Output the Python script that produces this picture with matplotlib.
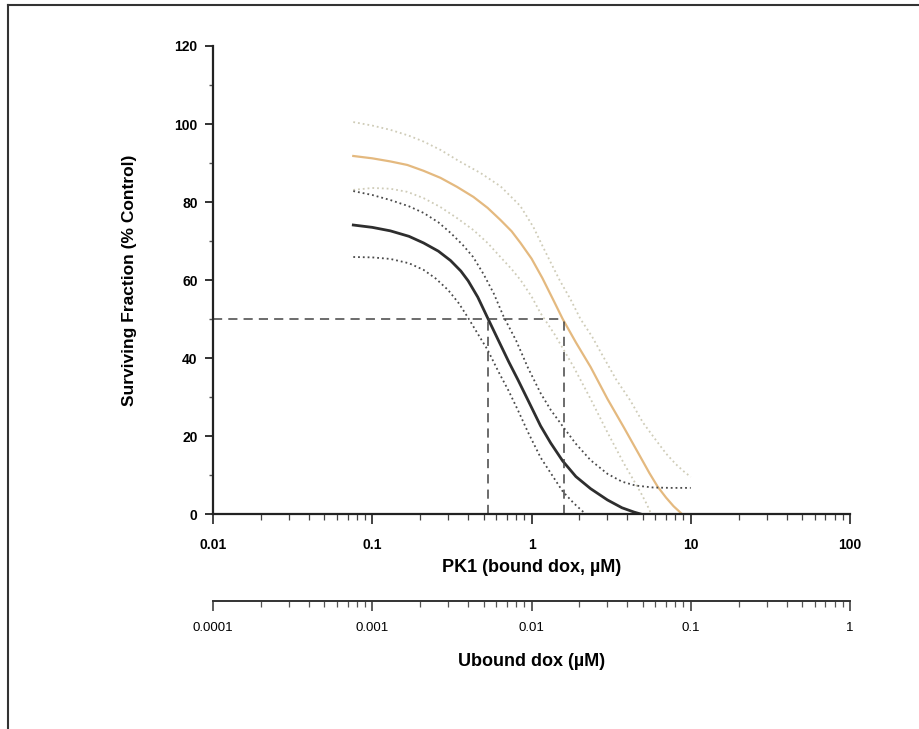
import matplotlib
matplotlib.use("Agg")
import matplotlib.pyplot as plt
from matplotlib.lines import Line2D
from matplotlib.ticker import LogLocator, FixedLocator, NullFormatter

plt.rcParams['font.family'] = ['Liberation Sans', 'DejaVu Sans']

# Curves (x = bound dox, uM; y = % control)
upper_orange_x = [0.076, 0.10, 0.13, 0.17, 0.21, 0.27, 0.35, 0.48, 0.64, 0.85, 1.03, 1.17, 1.32, 1.5,
                  1.76, 2.03, 2.4, 2.72, 3.4, 4.19, 5.0, 6.03, 7.0, 8.05, 9.0, 10]
upper_orange_y = [100.5, 99.6, 98.5, 97.0, 95.5, 93.3, 90.5, 87.4, 84.0, 79.0, 73.5, 68.8, 64.5, 60.0,
                  55.0, 50.0, 45.5, 41.5, 34.5, 29.0, 23.5, 19.0, 15.5, 12.8, 11.0, 9.5]

orange_x = [0.076, 0.10, 0.13, 0.166, 0.21, 0.268, 0.34, 0.432, 0.53, 0.638, 0.75, 0.853, 1.0, 1.17,
            1.37, 1.57, 1.9, 2.35, 3.0, 3.79, 4.7, 5.5, 6.2, 7.0, 7.8, 8.65]
orange_y = [91.8, 91.2, 90.4, 89.5, 88.0, 86.2, 83.9, 81.3, 78.5, 75.4, 72.5, 69.5, 65.5, 60.5,
            54.9, 50.0, 44.0, 37.7, 29.5, 22.3, 15.5, 10.5, 7.0, 4.2, 2.0, 0.3]

lower_orange_x = [0.076, 0.10, 0.13, 0.166, 0.21, 0.268, 0.34, 0.432, 0.53, 0.638, 0.75, 0.853, 1.0,
                  1.14, 1.4, 1.84, 2.35, 3.01, 3.8, 4.4, 4.85, 5.3, 5.6]
lower_orange_y = [83.1, 83.6, 83.4, 82.6, 81.0, 78.7, 75.9, 72.8, 69.5, 65.9, 62.8, 60.0, 55.8,
                  51.5, 46.0, 37.7, 29.5, 20.8, 13.0, 8.5, 5.5, 2.5, 0.3]

upper_black_x = [0.076, 0.10, 0.13, 0.17, 0.21, 0.26, 0.31, 0.37, 0.43, 0.50, 0.58, 0.67, 0.80, 0.95,
                 1.14, 1.32, 1.57, 1.9, 2.35, 3.0, 3.7, 4.5, 5.8, 7.5, 10]
upper_black_y = [82.8, 81.8, 80.5, 78.9, 77.2, 74.8, 72.1, 69.0, 65.9, 61.5, 56.5, 50.5, 44.5, 37.5,
                 31.0, 26.7, 22.5, 18.0, 13.8, 10.3, 8.3, 7.3, 6.8, 6.7, 6.7]

black_x = [0.076, 0.10, 0.13, 0.17, 0.21, 0.26, 0.31, 0.36, 0.40, 0.46, 0.53, 0.62, 0.72, 0.82, 0.95,
           1.14, 1.32, 1.57, 1.9, 2.35, 3.0, 3.7, 4.4, 4.85]
black_y = [74.1, 73.5, 72.6, 71.2, 69.5, 67.4, 65.0, 62.3, 59.8, 55.6, 50.3, 44.5, 39.0, 34.5, 29.2,
           22.6, 18.2, 13.6, 9.6, 6.5, 3.6, 1.6, 0.5, 0.0]

lower_black_x = [0.076, 0.10, 0.13, 0.17, 0.21, 0.25, 0.30, 0.35, 0.40, 0.46, 0.53, 0.62, 0.72, 0.82,
                 0.95, 1.14, 1.32, 1.57, 1.85, 2.12]
lower_black_y = [65.9, 65.8, 65.4, 64.3, 62.6, 60.4, 57.4, 54.0, 50.3, 46.2, 42.1, 36.5, 31.5, 26.7,
                 21.0, 14.5, 10.5, 5.8, 2.7, 0.5]

# IC50 markers
ic50_level = 50
ic50_black = 0.53
ic50_orange = 1.6

y_ticks = [0, 20, 40, 60, 80, 100, 120]
x_ticks = [0.01, 0.1, 1, 10, 100]
x_ticklabels = ["0.01", "0.1", "1", "10", "100"]
u_ticks = [0.0001, 0.001, 0.01, 0.1, 1]
u_ticklabels = ["0.0001", "0.001", "0.01", "0.1", "1"]

fig = plt.figure(figsize=(9.19, 7.29), dpi=100)
ax = fig.add_axes([0.2318, 0.2949, 0.6931, 0.642])

light = '#cfccb8'
dark = '#4a4a4a'
ax.plot(upper_orange_x, upper_orange_y, ls=':', color=light, lw=1.3)
ax.plot(orange_x, orange_y, ls='-', color='#e4b97f', lw=1.6)
ax.plot(lower_orange_x, lower_orange_y, ls=':', color=light, lw=1.3)
ax.plot(upper_black_x, upper_black_y, ls=':', color=dark, lw=1.3)
ax.plot(black_x, black_y, ls='-', color='#2e2e2e', lw=2.0)
ax.plot(lower_black_x, lower_black_y, ls=':', color=dark, lw=1.3)

dash = dict(color='#444444', lw=1.1, ls=(0, (6, 4)))
ax.plot([x_ticks[0], ic50_orange], [ic50_level, ic50_level], **dash)
ax.plot([ic50_black, ic50_black], [0, ic50_level], **dash)
ax.plot([ic50_orange, ic50_orange], [0, ic50_level], **dash)

ax.set_xscale('log')
ax.set_xlim(0.01, 100)
ax.set_ylim(0, 120)
for s in ['top', 'right']:
    ax.spines[s].set_visible(False)
for s in ['left', 'bottom']:
    ax.spines[s].set_linewidth(1.6)
    ax.spines[s].set_color('#222222')

ax.set_yticks(y_ticks)
ax.set_yticklabels([str(v) for v in y_ticks], fontweight='bold', fontsize=10)
ax.yaxis.set_minor_locator(FixedLocator([10, 30, 50, 70, 90, 110]))
ax.tick_params(axis='y', which='major', length=6, width=1.3, pad=5, color='#222222')
ax.tick_params(axis='y', which='minor', length=3, width=1.0, color='#555555')

ax.set_xticks(x_ticks)
ax.set_xticklabels(x_ticklabels, fontweight='bold', fontsize=10)
ax.xaxis.set_minor_locator(LogLocator(base=10, subs=range(2, 10)))
ax.xaxis.set_minor_formatter(NullFormatter())
ax.tick_params(axis='x', which='major', length=7, width=1.2, pad=10, color='#222222')
ax.tick_params(axis='x', which='minor', length=4, width=0.9, color='#444444')

ax.set_ylabel("Surviving Fraction (% Control)", fontweight='bold', fontsize=12.5)
ax.yaxis.set_label_coords(-0.119, 0.5)
ax.set_xlabel("PK1 (bound dox, \u00b5M)", fontweight='bold', fontsize=13)
ax.xaxis.set_label_coords(0.5, -0.096)

# second scale: unbound dox is 1/100 of bound dox
sec = ax.secondary_xaxis(-0.186, functions=(lambda x: x / 100, lambda x: x * 100))
sec.set_xticks(u_ticks)
sec.set_xticklabels(u_ticklabels, fontsize=9.5)
sec.xaxis.set_minor_locator(LogLocator(base=10, subs=range(2, 10)))
sec.xaxis.set_minor_formatter(NullFormatter())
sec.spines['bottom'].set_linewidth(1.4)
sec.spines['bottom'].set_color('#333333')
sec.tick_params(axis='x', which='major', length=7, width=1.1, pad=8, color='#333333')
sec.tick_params(axis='x', which='minor', length=4, width=0.9, color='#555555')
sec.set_xlabel("Ubound dox (\u00b5M)", fontweight='bold', fontsize=13, labelpad=14)

# page frame
fig.add_artist(Line2D([8 / 919, 1], [1 - 5 / 729, 1 - 5 / 729], color='#333333', lw=1.5))
fig.add_artist(Line2D([8 / 919, 8 / 919], [0, 1 - 5 / 729], color='#333333', lw=1.5))

fig.savefig("out.png", dpi=100)
